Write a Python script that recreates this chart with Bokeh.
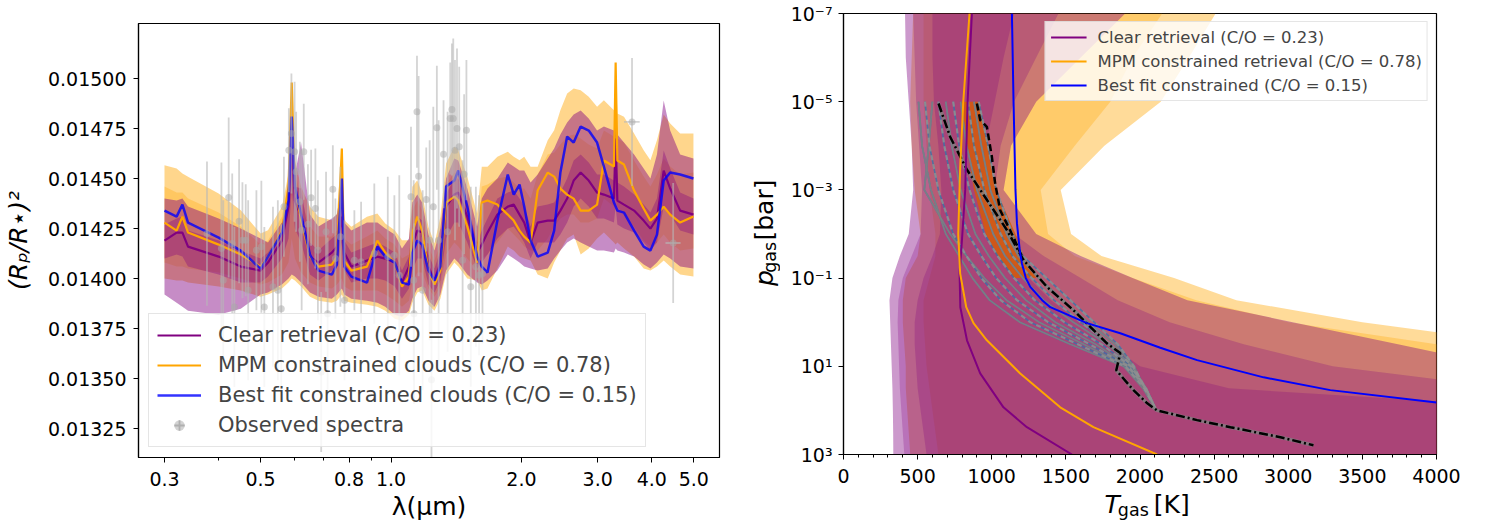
import math
from bokeh.plotting import figure
from bokeh.models import (Range1d, FixedTicker, PrintfTickFormatter, Legend, LegendItem,
                          ColumnDataSource)
from bokeh.layouts import row, column
from bokeh.embed import file_html
from bokeh.resources import INLINE
from bokeh.core.properties import value

FONT = "DejaVu Sans"

# ---------------- left panel data: transmission spectrum ----------------
wl = [0.30, 0.32, 0.33, 0.34, 0.40, 0.45, 0.50, 0.52, 0.56, 0.58, 0.59, 0.60,
      0.62, 0.65, 0.68, 0.73, 0.75, 0.77, 0.78, 0.81, 0.88, 0.93, 0.97, 1.02,
      1.06, 1.10, 1.12, 1.15, 1.18, 1.22, 1.26, 1.30, 1.34, 1.40, 1.43, 1.50,
      1.58, 1.62, 1.67, 1.76, 1.86, 1.92, 1.98, 2.03, 2.10, 2.18, 2.30, 2.38,
      2.46, 2.55, 2.64, 2.74, 2.86, 2.99, 3.10, 3.27, 3.30, 3.33, 3.45, 3.64,
      3.83, 3.97, 4.11, 4.26, 4.41, 4.65, 4.99]

best_fit = [0.01434, 0.01431, 0.01437, 0.01428, 0.014205, 0.01414, 0.01405, 0.01411,
            0.01423, 0.01439, 0.01481, 0.01446, 0.01432, 0.01412, 0.01404, 0.01402,
            0.01407, 0.01450, 0.01406, 0.01401, 0.01398, 0.01416, 0.01411, 0.01408,
            0.01398, 0.01397, 0.01413, 0.01419, 0.01417, 0.01404, 0.01399, 0.01406,
            0.01446, 0.01449, 0.01454, 0.01436, 0.01411, 0.01406, 0.01403, 0.01429,
            0.01452, 0.01442, 0.01447, 0.01436, 0.01419, 0.01411, 0.01413, 0.01424,
            0.01453, 0.01471, 0.01468, 0.01476, 0.01474, 0.01468, 0.01456, 0.01438,
            0.01436, 0.01434, 0.01433, 0.01424, 0.01416, 0.01414, 0.01422, 0.01449,
            0.01453, 0.01452, 0.01450]

mpm_med = [0.01428, 0.01424, 0.01431, 0.01423, 0.01417, 0.01412, 0.01406, 0.01411,
           0.01424, 0.01446, 0.01498, 0.01446, 0.01429, 0.01411, 0.01406, 0.01407,
           0.01411, 0.01465, 0.01409, 0.01404, 0.01406, 0.01419, 0.01413, 0.01408,
           0.01396, 0.01401, 0.01423, 0.01431, 0.01424, 0.01404, 0.01397, 0.01404,
           0.01438, 0.01441, 0.01439, 0.01426, 0.01408, 0.01438, 0.01439, 0.01437,
           0.01432, 0.01429, 0.01424, 0.01421, 0.01418, 0.01444, 0.01453, 0.01451,
           0.01445, 0.01442, 0.01440, 0.01434, 0.01434, 0.01437, 0.01459, 0.01456,
           0.01508, 0.01459, 0.01457, 0.01444, 0.01435, 0.01429, 0.01432, 0.01436,
           0.01432, 0.01428, 0.01431]
mpm_hi3 = [0.014567, 0.01455, 0.014525, 0.014509, 0.014425, 0.014342, 0.014225, 0.014242,
           0.014359, 0.014525, 0.014984, 0.014592, 0.014459, 0.014359, 0.014309, 0.014292,
           0.014325, 0.014659, 0.014292, 0.014259, 0.014309, 0.014325, 0.014275, 0.014242,
           0.014192, 0.014192, 0.014459, 0.014492, 0.014425, 0.014259, 0.014175, 0.014309,
           0.014575, 0.014659, 0.014642, 0.014509, 0.014325, 0.014559, 0.014559, 0.014609,
           0.014634, 0.014609, 0.014592, 0.014609, 0.014559, 0.014559, 0.014692, 0.014742,
           0.014842, 0.014925, 0.01495, 0.014942, 0.014909, 0.014859, 0.014892, 0.014842,
           0.015075, 0.014825, 0.014809, 0.014725, 0.014642, 0.014592, 0.014692, 0.01482,
           0.014775, 0.014725, 0.014725]
mpm_lo3 = [0.01400, 0.01399, 0.01399, 0.01398, 0.01396, 0.01394, 0.01391, 0.01392,
           0.01395, 0.01398, 0.01400, 0.01399, 0.01396, 0.01391, 0.01389, 0.01388,
           0.01389, 0.01392, 0.01389, 0.01388, 0.01387, 0.01386, 0.01384, 0.01380,
           0.01379, 0.01382, 0.01388, 0.01393, 0.01394, 0.01387, 0.01384, 0.01390,
           0.01402, 0.01408, 0.01406, 0.01400, 0.01399, 0.01394, 0.01395, 0.01405,
           0.01416, 0.01414, 0.01411, 0.01410, 0.01409, 0.01402, 0.01400, 0.01408,
           0.01414, 0.01420, 0.01422, 0.01412, 0.01415, 0.01420, 0.01423, 0.01418,
           0.01417, 0.01418, 0.01415, 0.01411, 0.01405, 0.01404, 0.01406, 0.01409,
           0.01406, 0.01402, 0.01401]
mpm_hi1 = [0.01446, 0.01443, 0.01443, 0.01440, 0.01433, 0.01426, 0.01417, 0.01419,
           0.01431, 0.01449, 0.01490, 0.01454, 0.01440, 0.01426, 0.01421, 0.01421,
           0.01424, 0.01455, 0.01420, 0.01417, 0.01421, 0.01424, 0.01420, 0.01417,
           0.01410, 0.01412, 0.01434, 0.01439, 0.01434, 0.01416, 0.01409, 0.01418,
           0.01447, 0.01453, 0.01452, 0.01439, 0.01420, 0.01446, 0.01447, 0.01450,
           0.01451, 0.01448, 0.01445, 0.01445, 0.01440, 0.01452, 0.01462, 0.01463,
           0.01467, 0.01471, 0.01472, 0.01470, 0.01467, 0.01465, 0.01474, 0.01471,
           0.01500, 0.01470, 0.01468, 0.01459, 0.01451, 0.01446, 0.01452, 0.01460,
           0.01456, 0.01452, 0.01453]
mpm_lo1 = [0.01408, 0.01406, 0.01406, 0.01405, 0.01403, 0.01400, 0.01397, 0.01398,
           0.01402, 0.01408, 0.01420, 0.01410, 0.01403, 0.01398, 0.01396, 0.01395,
           0.01397, 0.01400, 0.01396, 0.01394, 0.01394, 0.01394, 0.01392, 0.01389,
           0.01386, 0.01389, 0.01398, 0.01403, 0.01403, 0.01395, 0.01391, 0.01396,
           0.01412, 0.01418, 0.01416, 0.01410, 0.01404, 0.01410, 0.01412, 0.01418,
           0.01425, 0.01422, 0.01419, 0.01416, 0.01414, 0.01414, 0.01420, 0.01426,
           0.01430, 0.01432, 0.01432, 0.01428, 0.01428, 0.01430, 0.01440, 0.01436,
           0.01440, 0.01436, 0.01432, 0.01426, 0.01419, 0.01416, 0.01418, 0.01422,
           0.01418, 0.01414, 0.01415]

clear_med = [0.01419, 0.01423, 0.01423, 0.01416, 0.01411, 0.01406, 0.01404, 0.01408,
             0.01419, 0.01436, 0.01466, 0.01439, 0.01431, 0.01411, 0.01408, 0.01413,
             0.01416, 0.01431, 0.01413, 0.01406, 0.01409, 0.01411, 0.01410, 0.01408,
             0.01398, 0.01406, 0.01417, 0.01424, 0.01423, 0.01406, 0.01399, 0.01408,
             0.01436, 0.01442, 0.01443, 0.01431, 0.01413, 0.01417, 0.01423, 0.01432,
             0.01436, 0.01437, 0.01432, 0.01428, 0.01418, 0.01428, 0.01429, 0.01429,
             0.01434, 0.01440, 0.01449, 0.01453, 0.01449, 0.01443, 0.01442, 0.01440,
             0.01470, 0.01439, 0.01437, 0.01434, 0.01429, 0.01425, 0.01430, 0.01454,
             0.01445, 0.01434, 0.01432]
clear_hi3 = [0.01440, 0.01439, 0.01440, 0.01436, 0.01430, 0.01425, 0.01420, 0.01418,
             0.01428, 0.01440, 0.01474, 0.01452, 0.01468, 0.01432, 0.01426, 0.01430,
             0.01432, 0.01448, 0.01428, 0.01424, 0.01428, 0.01428, 0.01425, 0.01422,
             0.01415, 0.01420, 0.01438, 0.01442, 0.01438, 0.01422, 0.01414, 0.01425,
             0.01450, 0.01460, 0.01459, 0.01445, 0.01426, 0.01440, 0.01445, 0.01450,
             0.01458, 0.01456, 0.01454, 0.01454, 0.01448, 0.01452, 0.01460, 0.01465,
             0.01472, 0.01478, 0.01482, 0.01484, 0.01480, 0.01474, 0.01476, 0.01474,
             0.01490, 0.01472, 0.01468, 0.01462, 0.01455, 0.01450, 0.01462, 0.01489,
             0.01474, 0.01462, 0.01460]
clear_lo3 = [0.01392, 0.01388, 0.01386, 0.01384, 0.01382, 0.01385, 0.01392, 0.01393,
             0.01397, 0.01400, 0.01402, 0.01401, 0.01398, 0.01393, 0.01391, 0.01390,
             0.01392, 0.01395, 0.01392, 0.01390, 0.01389, 0.01388, 0.01386, 0.01382,
             0.01381, 0.01384, 0.01390, 0.01395, 0.01396, 0.01389, 0.01386, 0.01392,
             0.01404, 0.01410, 0.01408, 0.01402, 0.01398, 0.01397, 0.01399, 0.01404,
             0.01412, 0.01410, 0.01408, 0.01406, 0.01405, 0.01404, 0.01405, 0.01410,
             0.01414, 0.01418, 0.01420, 0.01418, 0.01416, 0.01414, 0.01414, 0.01413,
             0.01415, 0.01414, 0.01413, 0.01411, 0.01407, 0.01405, 0.01408, 0.01412,
             0.01410, 0.01406, 0.01405]
clear_hi1 = [0.01427, 0.01430, 0.01431, 0.01424, 0.01419, 0.01414, 0.01410, 0.01413,
             0.01424, 0.01442, 0.01470, 0.01446, 0.01445, 0.01418, 0.01414, 0.01420,
             0.01422, 0.01438, 0.01419, 0.01413, 0.01416, 0.01418, 0.01416, 0.01413,
             0.01404, 0.01411, 0.01425, 0.01431, 0.01429, 0.01412, 0.01405, 0.01414,
             0.01442, 0.01450, 0.01450, 0.01437, 0.01418, 0.01424, 0.01430, 0.01440,
             0.01443, 0.01444, 0.01440, 0.01436, 0.01426, 0.01436, 0.01437, 0.01438,
             0.01443, 0.01450, 0.01459, 0.01462, 0.01458, 0.01452, 0.01452, 0.01449,
             0.01474, 0.01448, 0.01446, 0.01442, 0.01437, 0.01433, 0.01440, 0.01464,
             0.01455, 0.01443, 0.01440]
clear_lo1 = [0.01410, 0.01412, 0.01411, 0.01406, 0.01402, 0.01398, 0.01398, 0.01401,
             0.01410, 0.01420, 0.01445, 0.01425, 0.01418, 0.01402, 0.01399, 0.01404,
             0.01406, 0.01418, 0.01404, 0.01398, 0.01400, 0.01400, 0.01399, 0.01396,
             0.01390, 0.01395, 0.01404, 0.01410, 0.01410, 0.01397, 0.01393, 0.01399,
             0.01420, 0.01428, 0.01428, 0.01418, 0.01405, 0.01408, 0.01412, 0.01420,
             0.01425, 0.01426, 0.01422, 0.01418, 0.01410, 0.01418, 0.01418, 0.01418,
             0.01422, 0.01428, 0.01436, 0.01440, 0.01436, 0.01430, 0.01430, 0.01428,
             0.01436, 0.01427, 0.01425, 0.01423, 0.01418, 0.01414, 0.01418, 0.01436,
             0.01432, 0.01424, 0.01422]

# observed spectra
obs_wl = [0.376, 0.406, 0.410, 0.422, 0.430, 0.435, 0.446, 0.454, 0.462, 0.468,
          0.489, 0.502, 0.510, 0.534, 0.548, 0.558, 0.566, 0.581, 0.589, 0.599,
          0.604, 0.616, 0.622, 0.629, 0.643, 0.654, 0.669, 0.678, 0.690, 0.708,
          0.714, 0.734, 0.744, 0.764, 0.781, 0.823, 0.853, 0.915, 0.983, 1.018,
          1.045, 1.112, 1.128, 1.130, 1.148, 1.158, 1.183, 1.206, 1.228, 1.240,
          1.252, 1.276, 1.288, 1.322, 1.351, 1.370, 1.382, 1.392, 1.405, 1.420,
          1.437, 1.463, 1.475, 1.493, 1.528, 1.570, 1.597, 1.626]
obs_val = [0.014225, 0.014150, 0.013992, 0.014405, 0.014175, 0.013858, 0.014287, 0.014192,
           0.014192, 0.013942, 0.014142, 0.014159, 0.013858, 0.013959, 0.013942, 0.013850,
           0.014359, 0.014642, 0.014725, 0.014634, 0.014534, 0.014384, 0.014242, 0.014634,
           0.014272, 0.014404, 0.014350, 0.014142, 0.013533, 0.014234, 0.013825, 0.014447,
           0.014100, 0.014209, 0.013892, 0.014092, 0.014084, 0.014125, 0.014109, 0.014117,
           0.014017, 0.014409, 0.013992, 0.013825, 0.014834, 0.014512, 0.013942, 0.014395,
           0.014192, 0.013494, 0.014359, 0.014754, 0.014192, 0.014622, 0.014234, 0.014800,
           0.014845, 0.014800, 0.014642, 0.014750, 0.014659, 0.014092, 0.014522, 0.014742,
           0.013959, 0.014059, 0.014017, 0.014026]
obs_err = [0.00036, 0.00043, 0.00040, 0.00040, 0.00035, 0.00040, 0.00031, 0.00029,
           0.00028, 0.00045, 0.00030, 0.00033, 0.00040, 0.00040, 0.00045, 0.00042,
           0.00025, 0.00021, 0.00030, 0.00035, 0.00030, 0.00030, 0.00040, 0.00024,
           0.00030, 0.00024, 0.00030, 0.00035, 0.00040, 0.00030, 0.00038, 0.00022,
           0.00030, 0.00035, 0.00040, 0.00025, 0.00030, 0.00035, 0.00040, 0.00030,
           0.00050, 0.00035, 0.00050, 0.00045, 0.00028, 0.00050, 0.00050, 0.00026,
           0.00050, 0.00040, 0.00050, 0.00031, 0.00060, 0.00027, 0.00060, 0.00028,
           0.00033, 0.00040, 0.00045, 0.00040, 0.00040, 0.00050, 0.00040, 0.00035,
           0.00050, 0.00040, 0.00040, 0.00035]
ir_wl = [3.60, 4.48]
ir_val = [0.014783, 0.014178]
ir_err = [0.00032, 0.00030]
ir_xerr = [0.15, 0.18]

y_ticks_left = [0.01325, 0.01350, 0.01375, 0.01400, 0.01425, 0.01450, 0.01475, 0.01500]
x_ticks_left = [0.3, 0.5, 0.8, 1.0, 2.0, 3.0, 4.0, 5.0]
x_minor_left = [0.4, 0.6, 0.7, 0.9]

# ---------------- right panel data: P-T profiles ----------------
p_band = [1e-7, 1e-6, 1e-5, 1e-4, 1e-3, 1e-2, 3.16e-2, 1e-1, 3.16e-1, 1.0, 3.16, 10.0,
          31.6, 100.0, 316.0, 1000.0]
mpmT_lo3 = [470, 460, 450, 460, 480, 520, 500, 420, 400, 400, 410, 420, 420, 430, 440, 450]
mpmT_hi3 = [2510, 2330, 2140, 1760, 1465, 1535, 1740, 2230, 2650, 3500, 4600, 5000, 5000, 5000, 5000, 5000]
mpmT_lo2 = [540, 540, 540, 560, 580, 620, 620, 580, 540, 540, 550, 560, 580, 600, 620, 640]
mpmT_hi2 = [2150, 1950, 1800, 1560, 1330, 1380, 1560, 1950, 2380, 3000, 4000, 4600, 5000, 5000, 5000, 5000]
clrT_lo3 = [415, 420, 440, 460, 470, 440, 380, 330, 310, 315, 320, 325, 330, 333, 335, 336]
clrT_hi3 = [1900, 1600, 1300, 1130, 1080, 1300, 1600, 1950, 2320, 3030, 3740, 4450, 5000, 5000, 5000, 5000]
clrT_lo2 = [470, 480, 490, 510, 530, 520, 460, 400, 370, 365, 370, 375, 380, 390, 400, 410]
clrT_hi2 = [1450, 1300, 1150, 1060, 1020, 1150, 1350, 1600, 1850, 2200, 2700, 3300, 4500, 5000, 5000, 5000]
clrT_lo1 = [600, 600, 610, 640, 660, 650, 600, 540, 500, 480, 480, 490, 500, 520, 540, 560]
clrT_hi1 = [1150, 1080, 1020, 960, 940, 1000, 1100, 1250, 1400, 1600, 1800, 2000, 2600, 5000, 5000, 5000]

p_prof = [1e-5, 1e-4, 1e-3, 1e-2, 3.16e-2, 1e-1, 3.16e-1, 1.0, 3.16, 10.0, 31.6, 100.0]
prof_T = [
    [506, 530, 590, 690, 780, 870, 985, 1190, 1530, 1890, 2020, 2110],
    [550, 580, 640, 740, 830, 930, 1060, 1260, 1580, 1900, 2030, 2110],
    [600, 575, 545, 720, 830, 950, 1100, 1320, 1620, 1910, 2030, 2110],
    [640, 680, 740, 840, 930, 1030, 1170, 1380, 1660, 1920, 2040, 2110],
    [690, 730, 790, 890, 980, 1090, 1230, 1430, 1700, 1930, 2040, 2110],
    [740, 780, 850, 950, 1040, 1150, 1290, 1490, 1740, 1940, 2040, 2110],
    [790, 830, 900, 1010, 1090, 1210, 1350, 1550, 1780, 1950, 2040, 2110],
    [840, 880, 950, 1060, 1140, 1270, 1420, 1600, 1800, 1950, 2040, 2110],
    [880, 930, 990, 1100, 1180, 1320, 1480, 1650, 1830, 1960, 2030, 2110],
    [912, 975, 1030, 1140, 1210, 1370, 1530, 1690, 1850, 1960, 2030, 2110],
]
p_cloud = [1e-5, 1e-4, 1e-3, 1e-2, 3.16e-2, 1e-1]
cloudT_lo = [790, 830, 880, 960, 1040, 1150]
cloudT_hi = [915, 975, 1030, 1160, 1215, 1300]

p_dashdot = [1.1e-5, 6.3e-5, 3.5e-4, 1.7e-3, 8.1e-3, 3.9e-2, 0.158, 0.537, 1.51, 3.02,
             5.01, 12.3, 34.7, 69.2, 100.0, 166.0, 240.0, 407.0, 617.0]
T_dashdot = [641, 720, 833, 968, 1102, 1214, 1372, 1552, 1687, 1777, 1867, 1840, 1956,
             2049, 2115, 2385, 2610, 2947, 3170]
p_dashed = [1.1e-5, 2.6e-5, 3.7e-5, 1.8e-4, 7.1e-4, 2.9e-3, 1.17e-2, 3.9e-2]
T_dashed = [900, 922, 967, 1001, 1023, 1057, 1146, 1214]

p_clear = [1e-7, 1e-5, 1e-3, 1.38e-2, 7.9e-2, 0.457, 2.57, 14.5, 85.1, 240.0, 1000.0]
T_clear = [866, 837, 821, 799, 783, 788, 833, 922, 1079, 1237, 1541]
p_mpm = [1e-7, 1e-5, 3.16e-4, 1e-2, 7.9e-2, 0.457, 1.05, 2.57, 14.5, 85.1, 240.0, 1000.0]
T_mpm = [850, 808, 787, 774, 787, 828, 877, 967, 1192, 1462, 1686, 2115]
p_best = [1e-7, 1e-5, 1e-3, 5.75e-3, 2.5e-2, 4.7e-2, 0.1, 0.158, 0.316, 0.457, 1.05,
          1.78, 3.8, 7.24, 17.8, 34.7, 66.1]
T_best = [1136, 1147, 1160, 1170, 1190, 1204, 1230, 1260, 1340, 1395, 1642, 1867, 2137,
          2385, 2834, 3284, 4000]

p_ticks_right = [1e-7, 1e-5, 1e-3, 1e-1, 1e1, 1e3]
p_tick_labels = ["10⁻⁷", "10⁻⁵", "10⁻³", "10⁻¹", "10¹", "10³"]
T_ticks_right = [0, 500, 1000, 1500, 2000, 2500, 3000, 3500, 4000]

labels_left = ["Clear retrieval (C/O = 0.23)", "MPM constrained clouds (C/O = 0.78)",
               "Best fit constrained clouds (C/O = 0.15)", "Observed spectra"]
labels_right = ["Clear retrieval (C/O = 0.23)", "MPM constrained retrieval (C/O = 0.78)",
                "Best fit constrained (C/O = 0.15)"]


def style(p):
    p.xgrid.visible = False
    p.ygrid.visible = False
    p.outline_line_color = "black"
    p.outline_line_width = 1.2
    p.outline_line_alpha = 1.0
    p.background_fill_color = "white"
    p.border_fill_color = "white"
    for ax in p.axis:
        ax.axis_line_color = "black"
        ax.axis_line_width = 1.2
        ax.major_tick_line_color = "black"
        ax.minor_tick_line_color = "black"
        ax.major_tick_out = 5
        ax.major_tick_in = 0
        ax.minor_tick_out = 3
        ax.minor_tick_in = 0
        ax.major_label_text_font = FONT
        ax.major_label_text_font_size = "19px"
        ax.major_label_text_color = "black"
        ax.major_label_standoff = 7
        ax.axis_label_text_font = FONT
        ax.axis_label_text_font_size = "25px"
        ax.axis_label_text_font_style = "normal"
        ax.axis_label_text_color = "black"
        ax.axis_label_standoff = 3
    for ax in p.xaxis:
        ax.major_label_standoff = 9


# ---------------- left figure ----------------
p1 = figure(width=740, height=524, x_axis_type="log",
            x_range=Range1d(0.2613, 5.731), y_range=Range1d(0.013106, 0.015275),
            output_backend="svg", toolbar_location=None,
            min_border_left=137, min_border_right=21, min_border_top=23, min_border_bottom=67)
style(p1)
p1.xaxis.ticker = FixedTicker(ticks=x_ticks_left, minor_ticks=x_minor_left)
p1.xaxis.formatter = PrintfTickFormatter(format="%.1f")
p1.yaxis.ticker = FixedTicker(ticks=y_ticks_left, minor_ticks=[])
p1.yaxis.formatter = PrintfTickFormatter(format="%.5f")
p1.xaxis.axis_label = "λ(μm)"
p1.yaxis.axis_label = "(Rₚ/R⋆)²"
p1.yaxis.axis_label_text_font_style = "italic"
p1.yaxis.axis_label_standoff = 12

p1.varea(x=wl, y1=mpm_lo3, y2=mpm_hi3, fill_color="orange", fill_alpha=0.45)
p1.varea(x=wl, y1=mpm_lo1, y2=mpm_hi1, fill_color="orange", fill_alpha=0.3)
p1.varea(x=wl, y1=clear_lo3, y2=clear_hi3, fill_color="purple", fill_alpha=0.45)
p1.varea(x=wl, y1=clear_lo1, y2=clear_hi1, fill_color="purple", fill_alpha=0.35)

r_clear = p1.line(wl, clear_med, line_color="purple", line_width=2.2)
r_mpm = p1.line(wl, mpm_med, line_color="orange", line_width=2.2)
r_best = p1.line(wl, best_fit, line_color="blue", line_width=2.5, line_alpha=0.8)

src = ColumnDataSource(dict(x=obs_wl, y=obs_val,
                            lo=[v - e for v, e in zip(obs_val, obs_err)],
                            hi=[v + e for v, e in zip(obs_val, obs_err)]))
p1.segment(x0="x", y0="lo", x1="x", y1="hi", source=src,
           line_color="#b8b8b8", line_width=1.8, line_alpha=0.6)
src_ir = ColumnDataSource(dict(x=ir_wl, y=ir_val,
                               lo=[v - e for v, e in zip(ir_val, ir_err)],
                               hi=[v + e for v, e in zip(ir_val, ir_err)],
                               xl=[w - e for w, e in zip(ir_wl, ir_xerr)],
                               xh=[w + e for w, e in zip(ir_wl, ir_xerr)]))
p1.segment(x0="x", y0="lo", x1="x", y1="hi", source=src_ir,
           line_color="#b8b8b8", line_width=1.8, line_alpha=0.6)
p1.segment(x0="xl", y0="y", x1="xh", y1="y", source=src_ir,
           line_color="#b8b8b8", line_width=1.8, line_alpha=0.6)
r_obs = p1.scatter("x", "y", source=src, size=7, fill_color="#a8a8a8", fill_alpha=0.5,
                   line_color=None)
p1.scatter("x", "y", source=src_ir, size=7, fill_color="#a8a8a8", fill_alpha=0.5,
           line_color=None)
# legend-only glyph for the error-bar cross (point lies outside the visible range)
r_cross = p1.scatter(x=[0.1], y=[0.0125], marker="cross", size=22, line_color="#b8b8b8",
                     line_width=1.8)

leg1 = Legend(items=[LegendItem(label=labels_left[0], renderers=[r_clear]),
                     LegendItem(label=labels_left[1], renderers=[r_mpm]),
                     LegendItem(label=labels_left[2], renderers=[r_best]),
                     LegendItem(label=labels_left[3], renderers=[r_cross, r_obs])],
              location="bottom_left", margin=10, padding=8, spacing=4,
              glyph_width=44, glyph_height=26, label_height=26, label_standoff=17,
              label_text_font=FONT, label_text_font_size="21px",
              border_line_color="#cccccc", background_fill_alpha=0.8)
p1.add_layout(leg1)

# ---------------- right figure ----------------
p2 = figure(width=709, height=490, y_axis_type="log",
            x_range=Range1d(0, 4000), y_range=Range1d(1e3, 1e-7),
            output_backend="svg", toolbar_location=None,
            min_border_left=63, min_border_right=53, min_border_top=13, min_border_bottom=36)
style(p2)
p2.xaxis.ticker = FixedTicker(ticks=T_ticks_right,
                              minor_ticks=[t for t in range(0, 4001, 100)])
p2.yaxis.ticker = FixedTicker(ticks=p_ticks_right, minor_ticks=[])
p2.yaxis.major_label_overrides = dict(zip(p_ticks_right, p_tick_labels))
p2.yaxis.major_label_standoff = 6

p2.harea(y=p_band, x1=mpmT_lo3, x2=mpmT_hi3, fill_color="orange", fill_alpha=0.4)
p2.harea(y=p_band, x1=mpmT_lo2, x2=mpmT_hi2, fill_color="orange", fill_alpha=0.3)
p2.harea(y=p_band, x1=clrT_lo3, x2=clrT_hi3, fill_color="purple", fill_alpha=0.4)
p2.harea(y=p_band, x1=clrT_lo2, x2=clrT_hi2, fill_color="purple", fill_alpha=0.25)
p2.harea(y=p_band, x1=clrT_lo1, x2=clrT_hi1, fill_color="purple", fill_alpha=0.25)

p2.harea(y=p_cloud, x1=cloudT_lo, x2=cloudT_hi, fill_color="#d35a0e", fill_alpha=0.9)
p2.multi_line(xs=prof_T, ys=[p_prof] * len(prof_T), line_color="#2a7ab0",
              line_width=1.6, line_alpha=0.75)
p2.multi_line(xs=prof_T[::2], ys=[p_prof] * len(prof_T[::2]), line_color="#808080",
              line_width=1.8, line_alpha=0.85)
p2.multi_line(xs=prof_T[1::2], ys=[p_prof] * len(prof_T[1::2]), line_color="#909090",
              line_width=2.2, line_alpha=0.85, line_dash="5 4")

p2.line(T_dashdot, p_dashdot, line_color="#808080", line_width=3.5, line_alpha=0.8)
p2.line(T_dashdot, p_dashdot, line_color="black", line_width=2.5, line_dash="9 3 2 3")
p2.line(T_dashed, p_dashed, line_color="black", line_width=2.5, line_dash="7 4")

q_clear = p2.line(T_clear, p_clear, line_color="purple", line_width=2)
q_mpm = p2.line(T_mpm, p_mpm, line_color="orange", line_width=2)
q_best = p2.line(T_best, p_best, line_color="blue", line_width=2)

leg2 = Legend(items=[LegendItem(label=labels_right[0], renderers=[q_clear]),
                     LegendItem(label=labels_right[1], renderers=[q_mpm]),
                     LegendItem(label=labels_right[2], renderers=[q_best])],
              location="top_right", margin=8, padding=5, spacing=4,
              glyph_width=36, glyph_height=20, label_height=20, label_standoff=11,
              label_text_font=FONT, label_text_font_size="16.5px",
              border_line_color="#cccccc", background_fill_alpha=0.8)
p2.add_layout(leg2)


# ---------------- axis-label strips (text with subscripts) for the right panel ----------------
def strip(w, h):
    f = figure(width=w, height=h, x_range=Range1d(0, w), y_range=Range1d(0, h),
               output_backend="svg", toolbar_location=None, min_border=0, title=None,
               x_axis_location=None, y_axis_location=None)
    f.grid.visible = False
    f.outline_line_color = None
    f.background_fill_color = "white"
    f.border_fill_color = "white"
    return f


def txt(f, x, y, s, size, style="normal", angle=0.0):
    f.text(x=[x], y=[y], text=[s], angle=angle, text_font=value(FONT),
           text_font_size=value(size), text_font_style=style, text_color="black",
           text_align="left", text_baseline="alphabetic")


ylab = strip(40, 524)
txt(ylab, 24, 207, "p", "25px", "italic", math.pi / 2)
txt(ylab, 29, 223, "gas", "17.5px", "normal", math.pi / 2)
txt(ylab, 24, 262, "[bar]", "25px", "normal", math.pi / 2)

xlab = strip(709, 34)
txt(xlab, 312, 20, "T", "25px", "italic")
txt(xlab, 328, 15, "gas", "17.5px")
txt(xlab, 371, 20, "[K]", "25px")

layout = row(p1, ylab, column(p2, xlab))
open("out.html", "w").write(file_html(layout, INLINE))
